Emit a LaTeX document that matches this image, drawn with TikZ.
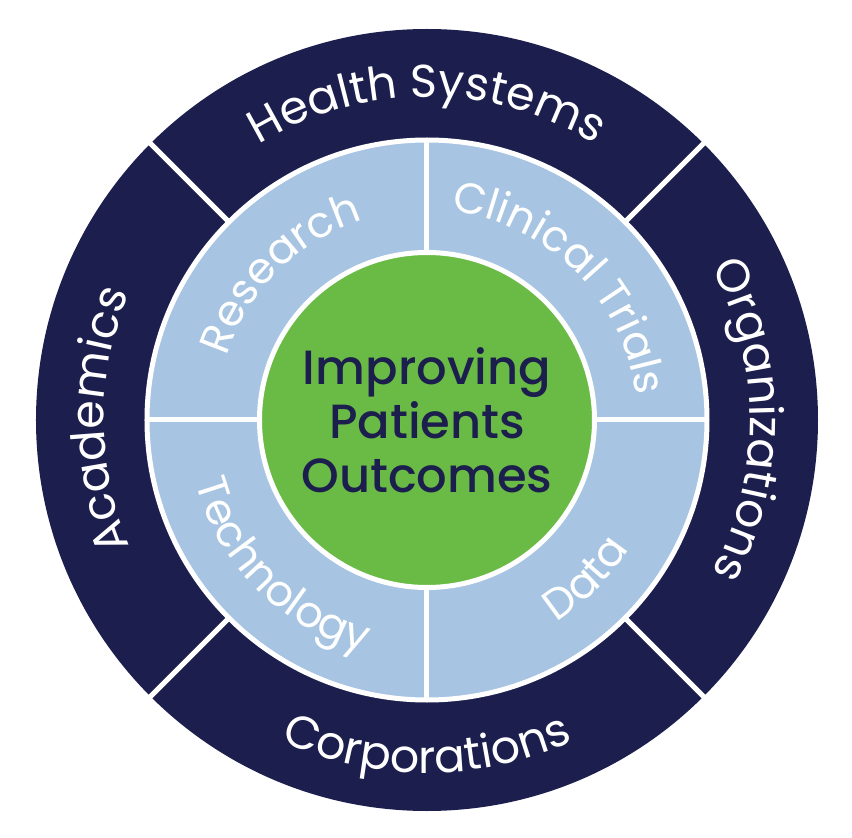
\documentclass[tikz,border=0pt]{standalone}
\usepackage{fontspec}
\setmainfont{Poppins}
\newfontfamily\hubfont{Poppins Medium}
\usepackage{xcolor}
\usepackage{tikz}
\usetikzlibrary{decorations.text}
\definecolor{ringnavy}{HTML}{1C1F4D}
\definecolor{ringblue}{HTML}{A7C5E2}
\definecolor{hubgreen}{HTML}{6ABB45}
\newcommand{\outerfont}{\fontsize{46}{50}\selectfont}
\newcommand{\innerfont}{\fontsize{43}{46}\selectfont}

\begin{document}
\begin{tikzpicture}[
    x=1pt, y=1pt,
    divider/.style={draw=white,line width=5pt},
    outerlabel/.style={decorate,decoration={text along path,text align=center,text color=white,text={|\outerfont|#1}}},
    innerlabel/.style={decorate,decoration={text along path,text align=center,text color=white,text={|\innerfont|#1}}},
  ]
    \useasboundingbox[fill=white] (-427,-418) rectangle (425,420);

    % outer ring
    \fill[ringnavy] (0,0) circle[radius=391];
    \foreach \a in {45,135,225,315}
      \draw[divider] (\a:276) -- (\a:393);

    % middle ring
    \filldraw[fill=ringblue, draw=white, line width=5pt] (0,0) circle[radius=280];
    \foreach \a in {0,90,180,270}
      \draw[divider] (\a:165) -- (\a:280);

    % hub
    \filldraw[fill=hubgreen, draw=white, line width=5pt] (0,0) circle[radius=167.5];
    \node[align=center, text=ringnavy, font=\hubfont\fontsize{48}{54}\selectfont] (hub) at (0,0) {Improving\\Patients\\Outcomes};

    % outer labels
    \path[outerlabel={Health Systems}] (180:323) arc[start angle=180, end angle=0, radius=323];
    \path[outerlabel={Organizations}] (90:323) arc[start angle=90, end angle=-90, radius=323];
    \path[outerlabel={Corporations}] (180:353) arc[start angle=180, end angle=360, radius=353];
    \path[outerlabel={Academics}] (270:323) arc[start angle=270, end angle=90, radius=323];

    % inner labels
    \path[innerlabel={Research}] (180:210) arc[start angle=180, end angle=90, radius=210];
    \path[innerlabel={Clinical Trials}] (90:210) arc[start angle=90, end angle=0, radius=210];
    \path[innerlabel={Technology}] (180:240) arc[start angle=180, end angle=270, radius=240];
    \path[innerlabel={Data}] (270:240) arc[start angle=270, end angle=360, radius=240];
  \end{tikzpicture}
\end{document}
